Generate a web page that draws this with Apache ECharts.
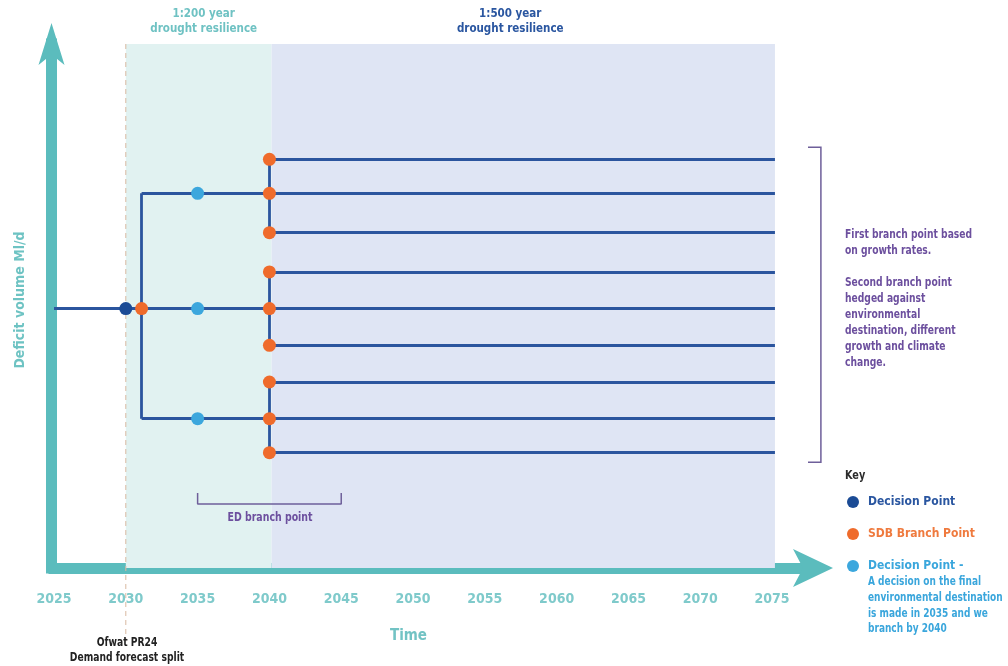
<!DOCTYPE html>
<html><head><meta charset="utf-8">
<script src="https://cdn.jsdelivr.net/npm/echarts@6/dist/echarts.min.js"></script>
<style>html,body{margin:0;padding:0;background:#fff}#c{width:1008px;height:666px}</style>
</head><body><div id="c"></div>
<script>
// ---- data (years on x, deficit volume index on y) ----
const tickYears = [2025, 2030, 2035, 2040, 2045, 2050, 2055, 2060, 2065, 2070, 2075];
const startYear = 2025;
const endYear = 2075.2;
const decisionYear = 2030;          // Ofwat PR24 decision point
const firstBranchYear = 2031.1;     // growth-rate branch
const edDecisionYear = 2035;        // ED decision points
const secondBranchYear = 2040;      // ED / SDB branch
const trunkLevel = 49.5;
const growthLevels = [71.5, 49.5, 28.5];
const edGroups = [[78, 71.5, 64], [56.5, 49.5, 42.5], [35.5, 28.5, 22]];
const regionBounds = [[2030, 2040.15], [2040.15, 2075.2]];
const regionLabels = ['1:200 year\ndrought resilience', '1:500 year\ndrought resilience'];
const edBracket = [[2035, 14.3], [2035, 12.2], [2045, 12.2], [2045, 14.3]];
const rightBracket = [[2077.5, 80.3], [2078.4, 80.3], [2078.4, 20.2], [2077.5, 20.2]];
const pr24Line = [[2030, 100], [2030, -14]];

const FONT = '"Liberation Sans Narrow", "DejaVu Sans Condensed", "Roboto", sans-serif';
const TEAL = '#5bbcbd';
const LINE = '#2b559e';
const PURPLE = '#6c4f9e';

// build pathway segments
const segs = [];
segs.push([[startYear, trunkLevel], [endYear, trunkLevel]]);
segs.push([[firstBranchYear, growthLevels[0]], [firstBranchYear, growthLevels[2]]]);
growthLevels.forEach(l => { if (l !== trunkLevel) segs.push([[firstBranchYear, l], [endYear, l]]); });
edGroups.forEach(g => {
  segs.push([[secondBranchYear, Math.max(...g)], [secondBranchYear, Math.min(...g)]]);
  g.forEach(l => { if (growthLevels.indexOf(l) < 0) segs.push([[secondBranchYear, l], [endYear, l]]); });
});

const sdbPoints = [[firstBranchYear, trunkLevel]];
edGroups.forEach(g => g.forEach(l => sdbPoints.push([secondBranchYear, l])));
const edPoints = growthLevels.map(l => [edDecisionYear, l]);
const decisionPoints = [[decisionYear, trunkLevel]];

function txt(x, y, text, fill, size, sx, extra) {
  return Object.assign({type: 'text', x: x, y: y, z: 100, scaleX: sx,
    style: Object.assign({text: text, fill: fill, font: 'bold ' + size + 'px ' + FONT}, extra || {})});
}

const chart = echarts.init(document.getElementById('c'), null, {renderer: 'canvas'});
chart.setOption({
  animation: false,
  textStyle: {fontFamily: FONT},
  grid: {left: 54, right: 195, top: 44, bottom: 98, containLabel: false, outerBoundsMode: 'none'},
  xAxis: {
    type: 'value', min: 2025, max: 2077.85, interval: 5,
    axisLine: {show: true, symbol: ['none', 'arrow'], symbolSize: [28.5, 40], symbolOffset: [0, 20],
      lineStyle: {color: TEAL, width: 11, cap: 'square'}},
    axisTick: {show: false}, splitLine: {show: false},
    axisLabel: {color: '#7fcacb', fontSize: 14, fontWeight: 'bold', fontFamily: FONT, margin: 24,
      formatter: v => (v % 5 === 0 && v <= 2075) ? String(v) : ''},
    name: 'Time', nameLocation: 'middle', nameGap: 61,
    nameTextStyle: {color: '#72c3c4', fontSize: 15, fontWeight: 'bold', fontFamily: FONT, padding: [0, 50, 0, 0]}
  },
  yAxis: {
    type: 'value', min: 0, max: 100, offset: 2.5,
    axisLine: {show: true, symbol: ['none', 'arrow'], symbolSize: [19.5, 42], symbolOffset: [0, 21],
      lineStyle: {color: TEAL, width: 11, cap: 'square'}},
    axisTick: {show: false}, splitLine: {show: false}, axisLabel: {show: false},
    name: 'Deficit volume Ml/d', nameLocation: 'middle', nameGap: 24,
    nameTextStyle: {color: '#6ec3c3', fontSize: 14, fontWeight: 'bold', fontFamily: FONT, padding: [0, 0, 0, 12]}
  },
  legend: {
    orient: 'vertical', left: 847, top: 496, padding: 0, itemWidth: 16, itemHeight: 12, itemGap: 20,
    icon: 'circle', selectedMode: false,
    textStyle: {fontSize: 12, fontWeight: 'bold', fontFamily: FONT, padding: [0, 0, 0, 2]},
    data: [
      {name: 'Decision Point', textStyle: {color: '#2a56a0'}},
      {name: 'SDB Branch Point', textStyle: {color: '#ef7a3e'}},
      {name: 'Decision Point -', textStyle: {color: '#3aa6dc'}}
    ]
  },
  series: [
    {
      name: 'PR24', type: 'line', data: pr24Line, clip: false, symbol: 'none', z: 3,
      lineStyle: {color: '#d9b9a2', width: 1, type: [5, 4]},
      markArea: {
        silent: true,
        data: regionBounds.map((b, i) => [
          {xAxis: b[0], yAxis: 100, itemStyle: {color: i === 0 ? '#e1f2f1' : '#dfe5f4'},
            label: {show: true, position: 'top', distance: 7, formatter: regionLabels[i],
              offset: [i === 0 ? 5 : -13, 0],
              color: i === 0 ? '#6fc2c3' : '#2a56a0', fontSize: 11.5, fontWeight: 'bold', fontFamily: FONT, lineHeight: 15}},
          {xAxis: b[1], yAxis: 0}
        ])
      }
    },
    {
      name: 'Pathways', type: 'lines', coordinateSystem: 'cartesian2d', z: 4,
      lineStyle: {color: LINE, width: 2.8, opacity: 1, curveness: 0},
      data: segs.map(s => ({coords: s}))
    },
    {name: 'ED bracket', type: 'line', data: edBracket, symbol: 'none', clip: false, z: 4,
      lineStyle: {color: '#6e5f9a', width: 1.5}},
    {name: 'Decision Point', type: 'scatter', data: decisionPoints, symbolSize: 13, z: 6,
      itemStyle: {color: '#1b4b95', opacity: 1}},
    {name: 'SDB Branch Point', type: 'scatter', data: sdbPoints, symbolSize: 13, z: 6,
      itemStyle: {color: '#ef6b2b', opacity: 1}},
    {name: 'Decision Point -', type: 'scatter', data: edPoints, symbolSize: 13, z: 6,
      itemStyle: {color: '#3ca7dd', opacity: 1}}
  ]
});

// annotations; bracket converted through the chart's own scales
const bracketPx = rightBracket.map(p => chart.convertToPixel({gridIndex: 0}, p));
chart.setOption({
  graphic: [
    {type: 'polyline', z: 100, shape: {points: bracketPx}, style: {stroke: '#6e5f9a', lineWidth: 1.5, fill: null}},
    txt(845, 227, 'First branch point based\non growth rates.\n\nSecond branch point\nhedged against\nenvironmental\ndestination, different\ngrowth and climate\nchange.',
      PURPLE, 12, 0.85, {lineHeight: 16}),
    txt(845, 470, 'Key', '#2b2b2b', 12, 0.9),
    txt(868, 574, 'A decision on the final\nenvironmental destination\nis made in 2035 and we\nbranch by 2040',
      '#3aa6dc', 12.5, 0.8, {lineHeight: 15.7}),
    txt(270, 518, 'ED branch point', PURPLE, 12, 0.87, {align: 'center', verticalAlign: 'middle'}),
    txt(127, 650, 'Ofwat PR24\nDemand forecast split', '#222', 12, 0.85,
      {align: 'center', verticalAlign: 'middle', lineHeight: 15})
  ]
});
</script>
</body></html>
